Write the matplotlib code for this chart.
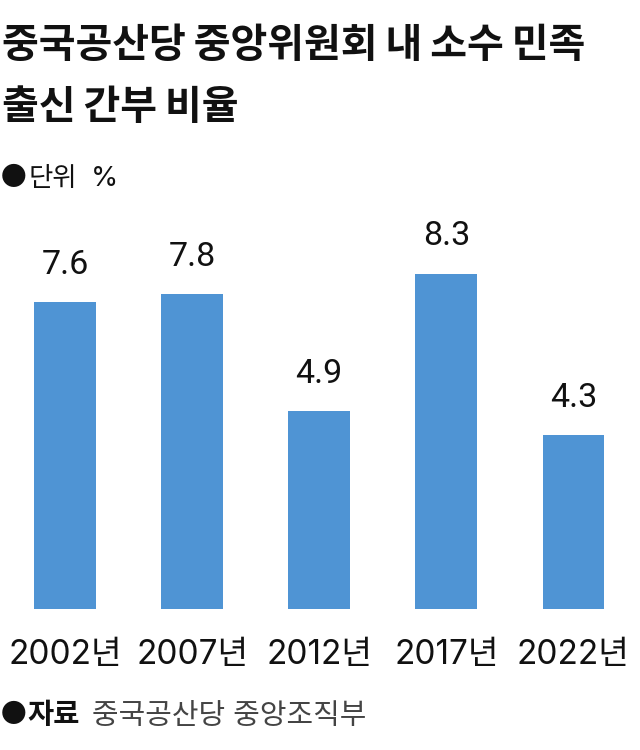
import matplotlib
matplotlib.use("Agg")
import matplotlib.pyplot as plt

plt.rcParams['font.family'] = ['Inter', 'Noto Sans CJK KR', 'DejaVu Sans']

years = ["2002년", "2007년", "2012년", "2017년", "2022년"]
values = [7.6, 7.8, 4.9, 8.3, 4.3]
values_text = ["7.6", "7.8", "4.9", "8.3", "4.3"]

TEXT = "#111111"
BAR = "#4f94d4"

fig = plt.figure(figsize=(6.4, 7.5), dpi=100)
ax = fig.add_axes([0, 1 - 609 / 750, 1, 609 / 750 - 100 / 750])

x = [0, 1, 2, 3, 4]
ax.bar(x, values, width=0.485, color=BAR)
for xi, v, s in zip(x, values, values_text):
    ax.annotate(s, (xi, v), xytext=(0, 15.5), textcoords="offset points",
                ha="center", va="bottom", fontsize=24.5, color=TEXT,
                family=["Roboto", "DejaVu Sans"])

# x range and y range fitted to the bar positions in pixels
ax.set_xlim(-0.511, 4.524)
ax.set_ylim(0, 8.3 * 509 / 335)
ax.axis("off")

for xi, lab in zip(x, years):
    ax.annotate(lab, (xi, 0), xytext=(0, -33), textcoords="offset points",
                ha="center", va="center", fontsize=24, color=TEXT)


def label(px, py, s, **kw):
    fig.text(px / 640, 1 - py / 750, s, va="center", color=kw.pop("color", TEXT), **kw)


label(2, 46, "중국공산당 중앙위원회 내 소수 민족", fontsize=28.8, fontweight="black")
label(2, 108, "출신 간부 비율", fontsize=28.8, fontweight="black")

label(1, 178, "●", fontsize=18.5, family=["Noto Sans CJK KR", "DejaVu Sans"])
label(29, 179, "단위", fontsize=19)
label(91, 179, "%", fontsize=20)

label(1, 715, "●", fontsize=18.5, family=["Noto Sans CJK KR", "DejaVu Sans"])
label(27, 716, "자료", fontsize=20.5, fontweight="black")
label(92, 717, "중국공산당 중앙조직부", fontsize=20.8, color="#444444")

fig.savefig("out.png", dpi=100)
